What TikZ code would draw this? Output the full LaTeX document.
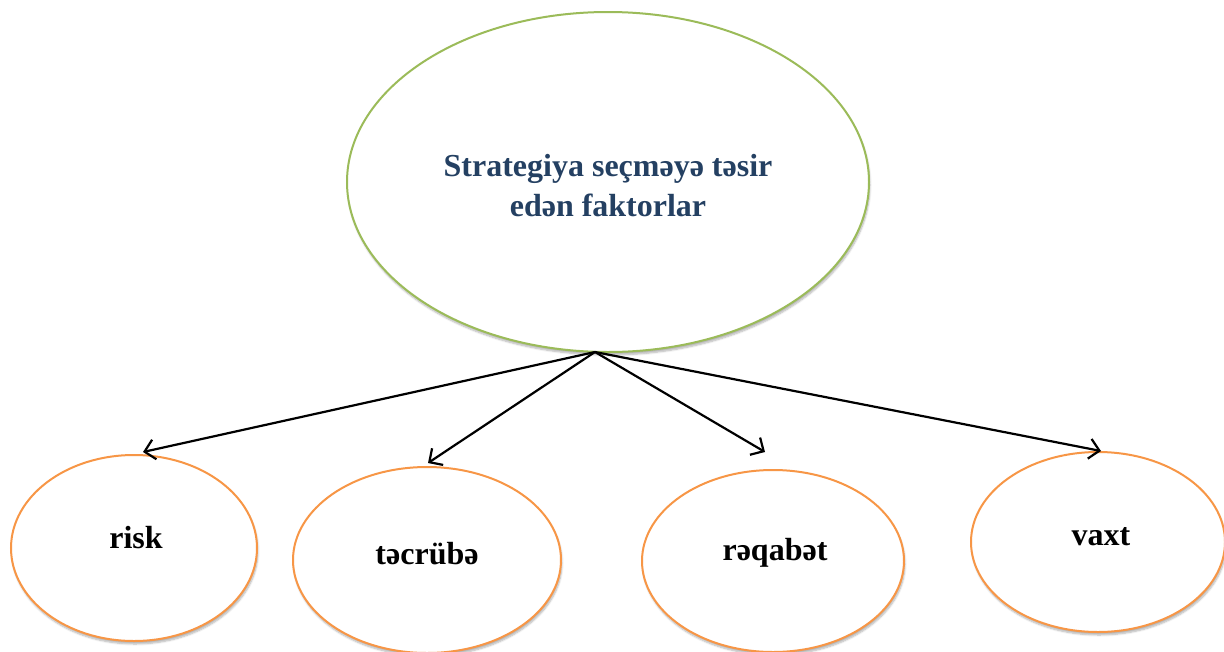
\documentclass[tikz,border=0pt]{standalone}
\usepackage{fontspec}
\setmainfont{Liberation Serif}
\usetikzlibrary{shapes.geometric,arrows.meta,shadows.blur}
\definecolor{topgreen}{RGB}{155,187,89}
\definecolor{leaforange}{RGB}{247,150,70}
\definecolor{titleblue}{RGB}{36,64,98}
\tikzset{
  topell/.style={ellipse, draw=topgreen, line width=2pt, fill=white, inner sep=0pt,
    minimum width=522pt, minimum height=340pt,
    blur shadow={shadow xshift=1pt, shadow yshift=-3pt, shadow blur steps=6, shadow opacity=30}},
  leafell/.style={ellipse, draw=leaforange, line width=2pt, fill=white, inner sep=0pt,
    blur shadow={shadow xshift=1pt, shadow yshift=-3pt, shadow blur steps=6, shadow opacity=30}},
  leaftext/.style={font=\fontsize{32}{36}\selectfont\bfseries, text=black},
  conn/.style={line width=2.2pt, -{Straight Barb[length=10pt,width=20pt,line width=2.2pt]}},
}
\begin{document}
\begin{tikzpicture}[x=1pt,y=-1pt]
\useasboundingbox (0,0) rectangle (1224,651);
% top ellipse
\node[topell] (top) at (608,182) {};
\node[font=\fontsize{32}{40}\selectfont\bfseries, text=titleblue, align=center] (toptext) at (608,186)
  {Strategiya seçməyə təsir\\edən faktorlar};
% leaf ellipses
\node[leafell, minimum width=246pt, minimum height=186pt] (risk) at (134,548) {};
\node[leafell, minimum width=268pt, minimum height=186pt] (tec) at (427,560) {};
\node[leafell, minimum width=262pt, minimum height=182pt] (raq) at (773,561) {};
\node[leafell, minimum width=254pt, minimum height=180pt] (vax) at (1098,542) {};
\node[leaftext] (risktext) at (136,538) {risk};
\node[leaftext] (tectext) at (427,554) {təcrübə};
\node[leaftext] (raqtext) at (775,553) {rəqabət};
\node[leaftext] (vaxtext) at (1101,537) {vaxt};
% connectors
\coordinate (hub) at (595,352);
\coordinate (riskin) at (143,452);
\coordinate (tecin) at (428,463);
\coordinate (raqin) at (765,452);
\coordinate (vaxin) at (1101,451);
\draw[conn] (hub) -- (riskin);
\draw[conn] (hub) -- (tecin);
\draw[conn] (hub) -- (raqin);
\draw[conn] (hub) -- (vaxin);
\end{tikzpicture}
\end{document}
